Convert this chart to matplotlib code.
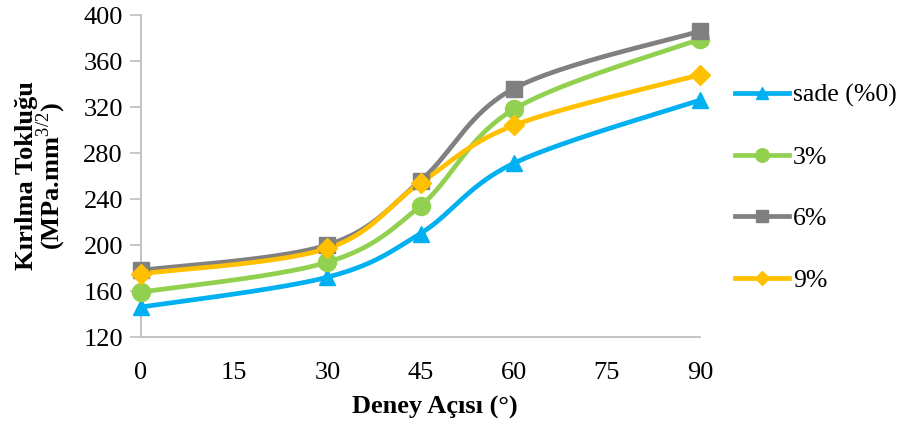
import numpy as np
import matplotlib
matplotlib.use("Agg")
import matplotlib.pyplot as plt
from matplotlib.lines import Line2D

plt.rcParams['font.family'] = ['Liberation Serif', 'DejaVu Serif']
plt.rcParams['mathtext.fontset'] = 'custom'
plt.rcParams['mathtext.rm'] = 'Liberation Serif'
plt.rcParams['mathtext.bf'] = 'Liberation Serif:bold'

angles = [0, 30, 45, 60, 90]
sade = [146, 172, 210, 271, 326]
p3 = [159, 185, 234, 318, 379]
p6 = [178, 200, 256, 336, 386]
p9 = [175, 197, 254, 304, 348]

labels = ["sade (%0)", "3%", "6%", "9%"]
colors = ["#00B0F0", "#92D050", "#808080", "#FFC000"]
markers = ["^", "o", "s", "D"]
msizes = [12, 13, 11, 10]


def smooth(x, y, n=40):
    """Cardinal (Catmull-Rom style) Bezier smoothing through all points."""
    x = np.asarray(x, float)
    y = np.asarray(y, float)
    pts = np.column_stack([x, y])
    out = []
    m = len(pts)
    for i in range(m - 1):
        p0 = pts[i - 1] if i > 0 else pts[i]
        p1 = pts[i]
        p2 = pts[i + 1]
        p3_ = pts[i + 2] if i + 2 < m else pts[i + 1]
        c1 = p1 + (p2 - p0) / 6.0
        c2 = p2 - (p3_ - p1) / 6.0
        t = np.linspace(0, 1, n)[:, None]
        seg = ((1 - t) ** 3) * p1 + 3 * ((1 - t) ** 2) * t * c1 + 3 * (1 - t) * t ** 2 * c2 + t ** 3 * p2
        out.append(seg if i == 0 else seg[1:])
    s = np.vstack(out)
    return s[:, 0], s[:, 1]


fig = plt.figure(figsize=(9.08, 4.28), dpi=100)
ax = fig.add_axes([141 / 908, 1 - 337 / 428, (700 - 141) / 908, (337 - 15) / 428])

series = [sade, p3, p6, p9]
handles = []
for vals, c, mk, ms, lab in zip(series, colors, markers, msizes, labels):
    sx, sy = smooth(angles, vals)
    ax.plot(sx, sy, color=c, lw=3.4, solid_capstyle='round', zorder=2, clip_on=False)
    ax.plot(angles, vals, linestyle='none', marker=mk, color=c, markersize=ms, zorder=3, clip_on=False)
    handles.append(Line2D([], [], color=c, lw=3.4, marker=mk, markersize=ms * 0.75, label=lab))

ax.set_xlim(0, 90)
ax.set_ylim(120, 400)
ax.set_xticks(range(0, 91, 15))
ax.set_yticks(range(120, 401, 40))
ax.tick_params(axis='x', length=0, pad=18, labelsize=19)
ax.tick_params(axis='y', length=8, width=1.2, color='#BFBFBF', direction='out', pad=5, labelsize=19)
for side in ['top', 'right']:
    ax.spines[side].set_visible(False)
for side in ['left', 'bottom']:
    ax.spines[side].set_color('#BFBFBF')
    ax.spines[side].set_linewidth(1.3)

ax.set_xlabel("Deney Açısı (°)", fontsize=19, fontweight='bold')
ax.xaxis.set_label_coords((435 - 141) / 559, -(396 - 337) / 322)
ax.set_ylabel("Kırılma Tokluğu\n(MPa.mm$^{3/2}$)", fontsize=19, fontweight='bold',
              linespacing=0.85)
ax.yaxis.set_label_coords(-(141 - 68) / 559, 0.5)

fig.legend(handles=handles, loc='upper left', bbox_to_anchor=(735 / 908, 1 - 84 / 428),
           frameon=False, fontsize=18.5, handlelength=2.1, handletextpad=0.15,
           labelspacing=1.5, borderaxespad=0, borderpad=0)

fig.savefig("out.png", dpi=100)
